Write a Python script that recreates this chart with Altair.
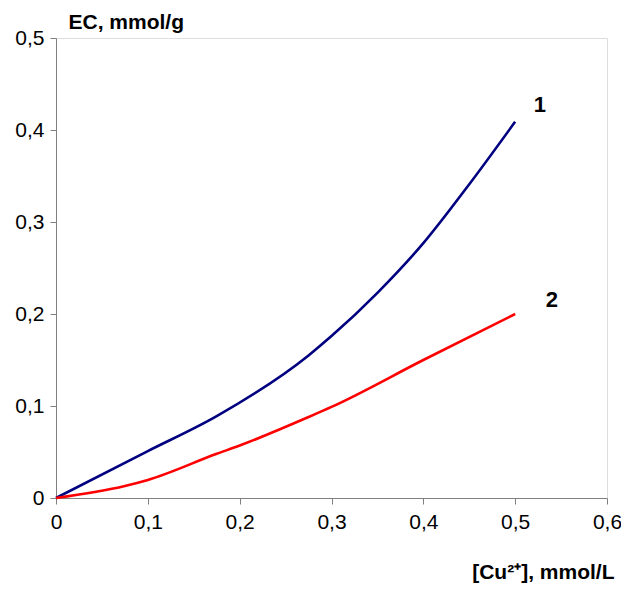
import altair as alt
import pandas as pd

# Curve 1 (navy)
x1 = [0, 0.1, 0.175, 0.275, 0.3, 0.35, 0.4, 0.45, 0.5]
y1 = [0, 0.051, 0.089, 0.155, 0.176, 0.223, 0.277, 0.341, 0.409]
# Curve 2 (red)
x2 = [0, 0.075, 0.1, 0.175, 0.2, 0.275, 0.3, 0.4, 0.5]
y2 = [0, 0.013, 0.0196, 0.048, 0.057, 0.088, 0.099, 0.150, 0.200]

series_names = ["1", "2"]
label_x = [0.527, 0.540]
label_y = [0.427, 0.215]

df = pd.concat([
    pd.DataFrame({"x": x1, "y": y1, "s": "1"}),
    pd.DataFrame({"x": x2, "y": y2, "s": "2"}),
])
labels = pd.DataFrame({"x": label_x, "y": label_y, "t": series_names})

label_expr = "datum.value == 0 ? '0' : replace(format(datum.value, '.1f'), '.', ',')"

xscale = alt.Scale(domain=[0, 0.6], nice=False, zero=True)
yscale = alt.Scale(domain=[0, 0.5], nice=False, zero=True)

FONT = "Liberation Sans"

xaxis = alt.Axis(
    values=[0, 0.1, 0.2, 0.3, 0.4, 0.5, 0.6], labelExpr=label_expr, grid=False,
    title="[Cu²⁺], mmol/L", titleAngle=0, titleAlign="right", titleBaseline="alphabetic",
    titleX=558, titleY=80, titleFontSize=21, titleFontWeight="bold",
    titleFont=FONT, titleColor="black",
    labelFont=FONT, labelFontSize=21, labelColor="black", labelPadding=7,
    domainColor="#808080", tickColor="#808080", tickSize=6, labelFlush=False,
)
yaxis = alt.Axis(
    values=[0, 0.1, 0.2, 0.3, 0.4, 0.5], labelExpr=label_expr, grid=False,
    title="EC, mmol/g", titleAngle=0, titleAlign="left", titleBaseline="middle",
    titleX=12, titleY=-16, titleFontSize=21, titleFontWeight="bold",
    titleFont=FONT, titleColor="black",
    labelFont=FONT, labelFontSize=21, labelColor="black", labelPadding=6,
    domainColor="#808080", tickColor="#808080", tickSize=6, labelFlush=False,
)

lines = alt.Chart(df).mark_line(strokeWidth=2.6, interpolate="monotone").encode(
    x=alt.X("x:Q", scale=xscale, axis=xaxis),
    y=alt.Y("y:Q", scale=yscale, axis=yaxis),
    color=alt.Color("s:N", scale=alt.Scale(domain=["1", "2"], range=["#000080", "#FF0000"]), legend=None),
    detail="s:N",
)

text = alt.Chart(labels).mark_text(fontSize=22, fontWeight="bold", font=FONT, color="black").encode(
    x=alt.X("x:Q", scale=xscale),
    y=alt.Y("y:Q", scale=yscale),
    text="t:N",
)

chart = alt.layer(lines, text).properties(
    width=551, height=460,
    autosize=alt.AutoSizeParams(type="none"),
    padding={"left": 48, "top": 30, "right": 14, "bottom": 85},
).configure_view(stroke=None).configure(background="white")

chart.save("out.html", embed_options={"renderer": "svg", "actions": False})
